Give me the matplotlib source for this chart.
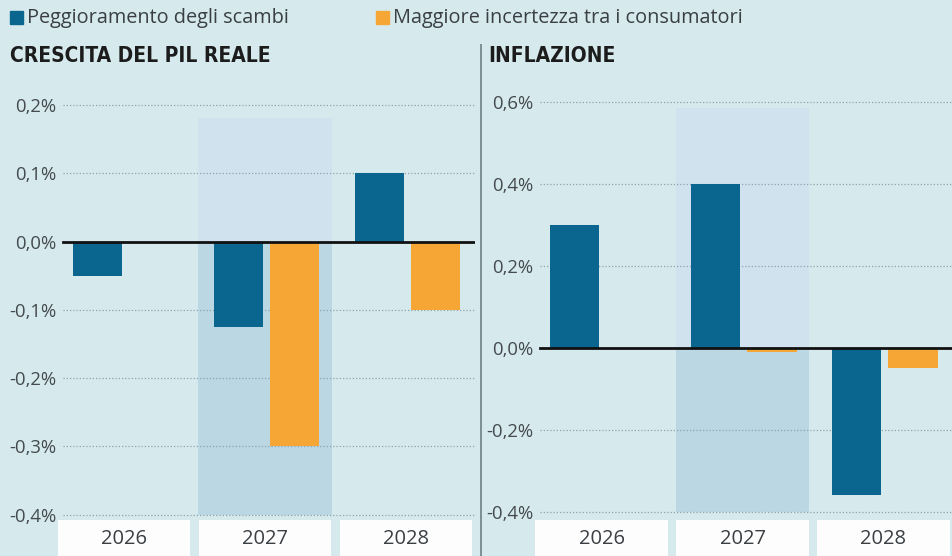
import matplotlib.pyplot as plt
from matplotlib.patches import Rectangle

# Data
years = ['2026', '2027', '2028']
gdp_trade = [-0.05, -0.125, 0.10]       # Peggioramento degli scambi
gdp_consumer = [0.0, -0.30, -0.10]      # Maggiore incertezza tra i consumatori
infl_trade = [0.30, 0.40, -0.36]
infl_consumer = [0.0, -0.01, -0.05]
gdp_ticks = [0.2, 0.1, 0.0, -0.1, -0.2, -0.3, -0.4]
infl_ticks = [0.6, 0.4, 0.2, 0.0, -0.2, -0.4]

BG = '#d6eaee'
BLUE = '#0b668f'
ORANGE = '#f6a634'
HL_TOP = '#d0e2ee'
HL_BOT = '#bbd7e3'
TXT = '#3a3f44'

W, H = 953, 556
fig = plt.figure(figsize=(W / 100, H / 100), dpi=100, facecolor=BG)


def px_axes(x0, x1, y0, y1):
    # axes placed by pixel coordinates (y from the top)
    return fig.add_axes([x0 / W, 1 - y1 / H, (x1 - x0) / W, (y1 - y0) / H])


def draw_panel(ax, trade, consumer, ticks, ylim, xlim, hl_top, grid_start):
    ax.set_facecolor(BG)
    ax.set_xlim(*xlim)
    ax.set_ylim(*ylim)
    for s in ax.spines.values():
        s.set_visible(False)
    x = list(range(len(years)))

    # highlighted 2027 column
    ax.add_patch(Rectangle((1 - 0.475, 0), 0.95, hl_top, color=HL_TOP, zorder=0, lw=0))
    ax.add_patch(Rectangle((1 - 0.475, min(ticks)), 0.95, -min(ticks), color=HL_BOT, zorder=0, lw=0))

    for t in ticks:
        if t != 0:
            ax.axhline(t, xmin=grid_start, xmax=1, color='#8fa3aa', lw=0.9,
                       ls=(0, (1, 1.6)), zorder=1)

    off, bw = 0.19, 0.35
    ax.bar([i - off for i in x], trade, width=bw, color=BLUE, zorder=2)
    ax.bar([i + off + 0.02 for i in x], consumer, width=bw, color=ORANGE, zorder=2)
    ax.axhline(0, xmin=grid_start, xmax=1, color='#111111', lw=2, zorder=3)

    ax.set_xticks([])
    ax.set_yticks(ticks)
    ax.set_yticklabels([f'{t:.1f}%'.replace('.', ',') for t in ticks],
                       fontsize=13.3, color='#444a4f', family='Open Sans')
    ax.tick_params(axis='y', length=0, pad=1)

    # year boxes under the plot
    tr = ax.get_xaxis_transform()
    for i, yr in enumerate(years):
        ax.add_patch(Rectangle((i - 0.47, 0), 0.94, 0.078, transform=tr,
                               color='#fdfdfd', lw=0, zorder=2, clip_on=False))
        ax.text(i, 0.036, yr, transform=tr, ha='center', va='center',
                fontsize=14.5, color=TXT, family='Open Sans', zorder=3)


# Left panel: GDP growth
ax1 = px_axes(58, 475, 95, 556)
draw_panel(ax1, gdp_trade, gdp_consumer, gdp_ticks,
           ylim=(-0.4608, 0.2147), xlim=(-0.468, 2.489), hl_top=0.181,
           grid_start=0.012)

# Right panel: inflation
ax2 = px_axes(535, 952, 95, 556)
draw_panel(ax2, infl_trade, infl_consumer, infl_ticks,
           ylim=(-0.5085, 0.616), xlim=(-0.472, 2.486), hl_top=0.585,
           grid_start=0.012)

# divider
fig.add_artist(plt.Line2D([481 / W, 481 / W], [0, 1 - 45 / H], color='#7d8f95', lw=1.4))

# titles
fig.text(10 / W, 1 - 56 / H, 'CRESCITA DEL PIL REALE', fontsize=15, fontweight='bold',
         family='DejaVu Sans', fontstretch='condensed', color='#1c1c1c',
         va='center', ha='left')
fig.text(488 / W, 1 - 56 / H, 'INFLAZIONE', fontsize=15, fontweight='bold',
         family='DejaVu Sans', fontstretch='condensed', color='#1c1c1c',
         va='center', ha='left')

# legend
for xs, col, lab in [(10, BLUE, 'Peggioramento degli scambi'),
                     (376, ORANGE, 'Maggiore incertezza tra i consumatori')]:
    fig.add_artist(Rectangle((xs / W, 1 - 24 / H), 13 / W, 13 / H, color=col,
                             transform=fig.transFigure))
    fig.text((xs + 17) / W, 1 - 18 / H, lab, fontsize=14.3, family='Open Sans',
             color=TXT, va='center', ha='left')

fig.savefig('out.png', dpi=100, facecolor=BG)
